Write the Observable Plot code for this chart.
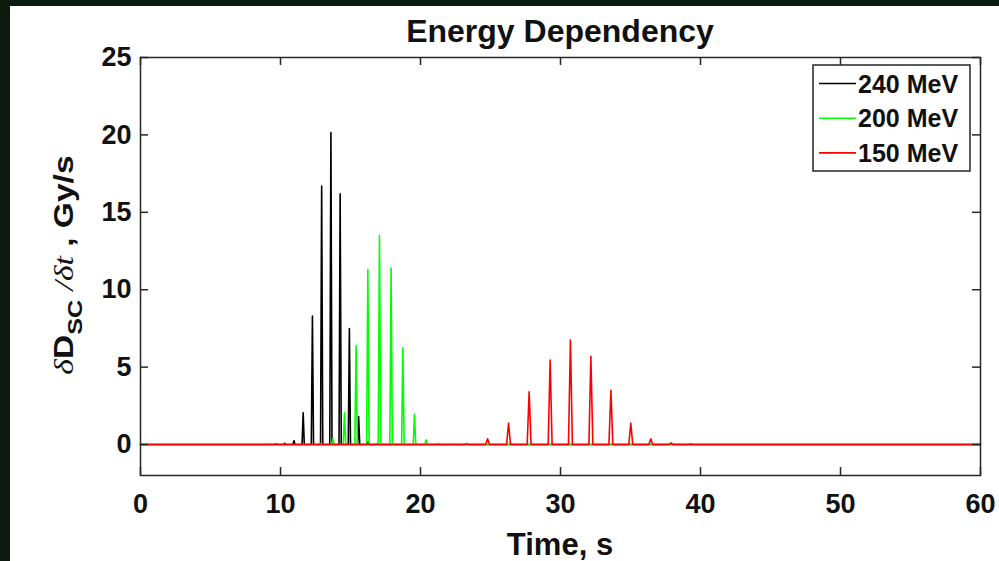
<!DOCTYPE html>
<html>
<head>
<meta charset="utf-8">
<script src="https://cdn.jsdelivr.net/npm/d3@7"></script>
<script src="https://cdn.jsdelivr.net/npm/@observablehq/plot@0.6"></script>
<style>
html, body { margin: 0; padding: 0; background: #0c1b10; width: 999px; height: 561px; overflow: hidden; }
#card { position: absolute; left: 10px; top: 6px; width: 989px; height: 555px; background: #ffffff; }
</style>
</head>
<body>
<div id="card"></div>
<script>
// ---------- data ----------
const titleText = "Energy Dependency";
const xLabelText = "Time, s";
const seriesNames = ["240 MeV", "200 MeV", "150 MeV"];
const seriesColors = ["#000000", "#00ff00", "#ff0000"];

// peak times (s) and peak heights (Gy/s)
const peakTimes240   = [8.98, 9.64, 10.30, 10.96, 11.62, 12.28, 12.94, 13.60, 14.26, 14.92, 15.58, 16.24, 16.90];
const peakHeights240 = [0.02, 0.04, 0.08, 0.25, 2.05, 8.3, 16.7, 20.15, 16.2, 7.5, 1.8, 0.15, 0.03];

const peakTimes200   = [12.07, 12.90, 13.74, 14.57, 15.40, 16.24, 17.07, 17.90, 18.74, 19.57, 20.40, 21.24, 22.07];
const peakHeights200 = [0.02, 0.08, 0.37, 2.05, 6.4, 11.3, 13.5, 11.4, 6.25, 1.95, 0.3, 0.07, 0.02];

const peakTimes150   = [23.29, 24.79, 26.29, 27.76, 29.26, 30.71, 32.17, 33.60, 35.02, 36.45, 37.90, 39.30];
const peakHeights150 = [0.05, 0.37, 1.38, 3.4, 5.45, 6.75, 5.7, 3.5, 1.38, 0.37, 0.1, 0.03];

// pulse half-widths at the base (s)
const pulseHalfWidth = [0.08, 0.09, 0.14];

const timeRange = [0, 60];
const xTicks = [0, 10, 20, 30, 40, 50, 60];
const yTicks = [0, 5, 10, 15, 20, 25];
const yDomain = [-2, 25];

// ---------- table ----------
function buildSeries(name, times, heights, hw) {
  const pts = [{series: name, t: timeRange[0], v: 0}];
  times.forEach((t, i) => {
    pts.push({series: name, t: t - hw, v: 0});
    pts.push({series: name, t: t, v: heights[i]});
    pts.push({series: name, t: t + hw, v: 0});
  });
  pts.push({series: name, t: timeRange[1], v: 0});
  return pts;
}
const data = [
  ...buildSeries(seriesNames[0], peakTimes240, peakHeights240, pulseHalfWidth[0]),
  ...buildSeries(seriesNames[1], peakTimes200, peakHeights200, pulseHalfWidth[1]),
  ...buildSeries(seriesNames[2], peakTimes150, peakHeights150, pulseHalfWidth[2])
];

// ---------- plot ----------
const W = 989, H = 555, mL = 130, mR = 19, mT = 51, mB = 86;
const plotW = W - mL - mR, plotH = H - mT - mB;
const tickLen = 8;
const axisColor = "#262626";
const font = "'Liberation Sans', Arial, Helvetica, sans-serif";

const chart = Plot.plot({
  width: W, height: H,
  marginLeft: mL, marginRight: mR, marginTop: mT, marginBottom: mB,
  style: {background: "transparent", fontFamily: font, fontWeight: "bold", fontSize: "27px", color: "#111", overflow: "visible"},
  x: {domain: timeRange},
  y: {domain: yDomain},
  color: {domain: seriesNames, range: seriesColors},
  marks: [
    Plot.line(data, {x: "t", y: "v", z: "series", stroke: "series", strokeWidth: 1.6}),
    // inward ticks on all four sides
    Plot.tickX(xTicks, {x: d => d, stroke: axisColor, strokeWidth: 1.5, insetTop: plotH - tickLen}),
    Plot.tickX(xTicks, {x: d => d, stroke: axisColor, strokeWidth: 1.5, insetBottom: plotH - tickLen}),
    Plot.tickY(yTicks, {y: d => d, stroke: axisColor, strokeWidth: 1.5, insetRight: plotW - tickLen}),
    Plot.tickY(yTicks, {y: d => d, stroke: axisColor, strokeWidth: 1.5, insetLeft: plotW - tickLen}),
    Plot.frame({stroke: axisColor, strokeWidth: 1.5}),
    Plot.axisX({anchor: "bottom", ticks: xTicks, tickSize: 0, tickPadding: 18, label: null, fill: "#111"}),
    Plot.axisY({anchor: "left", ticks: yTicks, tickSize: 0, tickPadding: 9, label: null, fill: "#111"})
  ]
});
document.getElementById("card").appendChild(chart);

const svg = d3.select(chart);
const cx = mL + plotW / 2;

// title
svg.append("text")
  .attr("x", cx).attr("y", 36)
  .attr("text-anchor", "middle")
  .style("font-family", font).style("font-weight", "bold").style("font-size", "32px").attr("fill", "#111")
  .text(titleText);

// x label
svg.append("text")
  .attr("x", cx).attr("y", 549)
  .attr("text-anchor", "middle")
  .style("font-family", font).style("font-weight", "bold").style("font-size", "31px").attr("fill", "#111")
  .text(xLabelText);

// y label
const yl = svg.append("text")
  .attr("transform", "translate(63,259) rotate(-90) scale(1.2,1)")
  .attr("text-anchor", "middle")
  .style("font-family", font).style("font-weight", "bold").style("font-size", "28px").attr("fill", "#111");
yl.append("tspan").style("font-family", "'Liberation Serif', 'Times New Roman', serif").style("font-style", "italic").style("font-weight", "normal").text("δ");
yl.append("tspan").text("D");
yl.append("tspan").attr("dy", 9).style("font-size", "21px").text("SC");
yl.append("tspan").attr("dy", -9).text(" ");
yl.append("tspan").style("font-family", "'Liberation Serif', 'Times New Roman', serif").style("font-style", "italic").style("font-weight", "normal").text("/δt");
yl.append("tspan").text(" , Gy/s");

// legend
const lg = svg.append("g");
lg.append("rect").attr("x", 803).attr("y", 59).attr("width", 157).attr("height", 106)
  .attr("fill", "#fff").attr("stroke", axisColor).attr("stroke-width", 1.5);
seriesNames.forEach((name, i) => {
  const y = 77.5 + i * 34.7;
  lg.append("line").attr("x1", 809).attr("x2", 846).attr("y1", y).attr("y2", y)
    .attr("stroke", seriesColors[i]).attr("stroke-width", 1.6);
  lg.append("text").attr("x", 848).attr("y", y).attr("dy", "0.36em")
    .attr("text-anchor", "start")
    .style("font-family", font).style("font-weight", "bold").style("font-size", "25px").attr("fill", "#111")
    .text(name);
});
</script>
</body>
</html>
